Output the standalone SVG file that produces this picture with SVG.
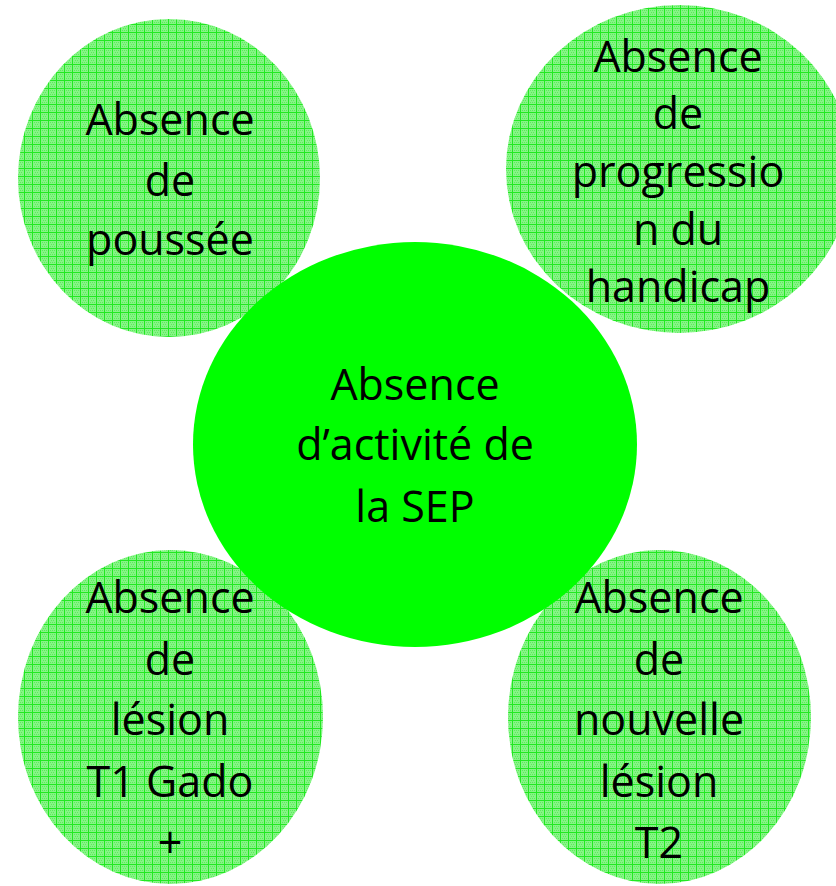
<svg xmlns="http://www.w3.org/2000/svg" width="836" height="886" viewBox="0 0 836 886">
  <style>
    .lbl { font-family: "Open Sans", "Noto Sans", "Liberation Sans", sans-serif; font-size: 43px; fill: #000000; text-anchor: middle; }
    .outer { fill: url(#grid); }
    .core { fill: #00ff00; }
  </style>
  <defs>
    <pattern id="grid" patternUnits="userSpaceOnUse" width="8" height="8">
      <rect width="8" height="8" fill="#86f486"/>
      <rect x="2" y="2" width="1" height="1" fill="#5cec5c"/>
      <rect x="4" y="2" width="1" height="1" fill="#5cec5c"/>
      <rect x="6" y="2" width="1" height="1" fill="#5cec5c"/>
      <rect x="3" y="4" width="1" height="1" fill="#5cec5c"/>
      <rect x="5" y="4" width="1" height="1" fill="#5cec5c"/>
      <rect x="2" y="6" width="1" height="1" fill="#5cec5c"/>
      <rect x="4" y="6" width="1" height="1" fill="#5cec5c"/>
      <rect x="6" y="6" width="1" height="1" fill="#5cec5c"/>
      <rect x="0" y="0" width="8" height="1" fill="#22e822"/>
      <rect x="0" y="0" width="1" height="8" fill="#22e822"/>
    </pattern>
  </defs>
  <rect width="836" height="886" fill="#ffffff"/>
  <g id="connectors"/>
  <g id="node-poussee">
    <ellipse class="outer" cx="169" cy="178" rx="151" ry="159"/>
    <text class="lbl" x="170" y="135">Absence</text>
    <text class="lbl" x="170" y="196">de</text>
    <text class="lbl" x="170" y="255">poussée</text>
  </g>
  <g id="node-handicap">
    <ellipse class="outer" cx="679" cy="169" rx="173" ry="164"/>
    <text class="lbl" x="678" y="72">Absence</text>
    <text class="lbl" x="678" y="129">de</text>
    <text class="lbl" x="678" y="187">progressio</text>
    <text class="lbl" x="678" y="245">n du</text>
    <text class="lbl" x="678" y="302">handicap</text>
  </g>
  <g id="node-gado">
    <ellipse class="outer" cx="170.5" cy="717" rx="152.5" ry="167"/>
    <text class="lbl" x="170" y="613">Absence</text>
    <text class="lbl" x="170" y="675">de</text>
    <text class="lbl" x="170" y="735">lésion</text>
    <text class="lbl" x="170" y="797">T1 Gado</text>
    <text class="lbl" x="170" y="858">+</text>
  </g>
  <g id="node-t2">
    <ellipse class="outer" cx="659.5" cy="717" rx="151.5" ry="167"/>
    <text class="lbl" x="659" y="613">Absence</text>
    <text class="lbl" x="659" y="675">de</text>
    <text class="lbl" x="659" y="735">nouvelle</text>
    <text class="lbl" x="659" y="797">lésion</text>
    <text class="lbl" x="659" y="858">T2</text>
  </g>
  <g id="node-center">
    <ellipse class="core" cx="415" cy="444.5" rx="222" ry="202.5"/>
    <text class="lbl" x="415" y="400">Absence</text>
    <text class="lbl" x="415" y="460">d’activité de</text>
    <text class="lbl" x="415" y="522">la SEP</text>
  </g>
</svg>
